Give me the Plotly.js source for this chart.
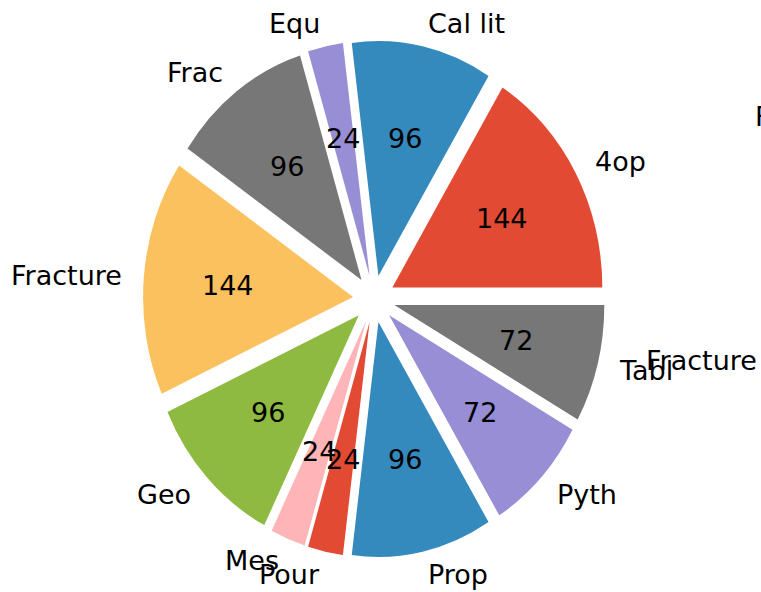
<!DOCTYPE html>
<html>
<head>
<meta charset="utf-8">
<script src="https://cdn.plot.ly/plotly-3.0.1.min.js"></script>
<style>
  html, body { margin: 0; padding: 0; background: #ffffff; overflow: hidden; }
  #chart { width: 761px; height: 592px; }
</style>
</head>
<body>
<div id="chart"></div>
<script>
// ---- data ----
const categories = ['4op', 'Cal lit', 'Equ', 'Frac', 'Fracture', 'Geo', 'Mes', 'Pour', 'Prop', 'Pyth', 'Tabl'];
const values = [144, 96, 24, 96, 144, 96, 24, 24, 96, 72, 72];
const sliceColors = ['#E24A33', '#348ABD', '#988ED5', '#777777', '#FBC15E', '#8EBA42', '#FFB5B8', '#E24A33', '#348ABD', '#988ED5', '#777777'];
const strayLabels = ['Fracture', 'F'];

// ---- layout constants ----
const W = 761, H = 592;
const CX = 374, CY = 299;      // pie centre in pixels
const RX = 210, RY = 235;      // horizontal / vertical radius in pixels
const EXPLODE = 0.1, LABEL_DIST = 1.1, PCT_DIST = 0.6;
const FONT = { family: 'DejaVu Sans', size: 27, color: '#000000' };

const total = values.reduce((a, b) => a + b, 0);
const annotations = [];
let cum = 0;
values.forEach((v, i) => {
  const t1 = cum / total * 2 * Math.PI;
  cum += v;
  const t2 = cum / total * 2 * Math.PI;
  const tm = (t1 + t2) / 2;
  const ex = EXPLODE * Math.cos(tm), ey = EXPLODE * Math.sin(tm);
  const lx = ex + LABEL_DIST * Math.cos(tm), ly = ey + LABEL_DIST * Math.sin(tm);
  annotations.push({
    x: lx, y: ly, xref: 'x', yref: 'y', text: categories[i], showarrow: false,
    xanchor: lx > 0 ? 'left' : 'right', yanchor: 'middle', font: FONT, borderpad: 0
  });
  const px = ex + PCT_DIST * Math.cos(tm), py = ey + PCT_DIST * Math.sin(tm);
  annotations.push({
    x: px, y: py, xref: 'x', yref: 'y', text: String(v), showarrow: false,
    xanchor: 'center', yanchor: 'middle', font: FONT, borderpad: 0
  });
});
// stray labels visible at the right edge of the reference
annotations.push({ x: 644.5 / W, y: 1 - 360 / H, xref: 'paper', yref: 'paper', text: strayLabels[0],
  showarrow: false, xanchor: 'left', yanchor: 'middle', font: FONT, borderpad: 0 });
annotations.push({ x: 753.5 / W, y: 1 - 116 / H, xref: 'paper', yref: 'paper', text: strayLabels[1],
  showarrow: false, xanchor: 'left', yanchor: 'middle', font: FONT, borderpad: 0 });

const pieTrace = {
  type: 'pie',
  values: values,
  labels: categories,
  sort: false,
  direction: 'counterclockwise',
  rotation: 90 - 360 * values[0] / total,
  pull: values.map(() => EXPLODE),
  marker: { colors: sliceColors, line: { width: 0 } },
  textinfo: 'none',
  hoverinfo: 'none',
  showlegend: false,
  domain: {
    x: [(CX - (1 + EXPLODE) * RX) / W, (CX + (1 + EXPLODE) * RX) / W],
    y: [(H - CY - (1 + EXPLODE) * RX) / H, (H - CY + (1 + EXPLODE) * RX) / H]
  }
};
const axisHolder = { type: 'scatter', x: [], y: [], hoverinfo: 'skip', showlegend: false };

const layout = {
  width: W, height: H,
  margin: { l: 0, r: 0, t: 0, b: 0, pad: 0 },
  paper_bgcolor: '#ffffff', plot_bgcolor: '#ffffff',
  showlegend: false,
  xaxis: { range: [-CX / RX, (W - CX) / RX], visible: false, fixedrange: true },
  yaxis: { range: [-(H - CY) / RY, CY / RY], visible: false, fixedrange: true },
  annotations: annotations
};

Plotly.newPlot('chart', [axisHolder, pieTrace], layout, { staticPlot: true }).then(gd => {
  const k = RY / RX;
  gd.querySelectorAll('.pielayer').forEach(g => {
    g.setAttribute('transform', 'translate(0,' + (CY * (1 - k)) + ') scale(1,' + k + ')');
  });
});
</script>
</body>
</html>
